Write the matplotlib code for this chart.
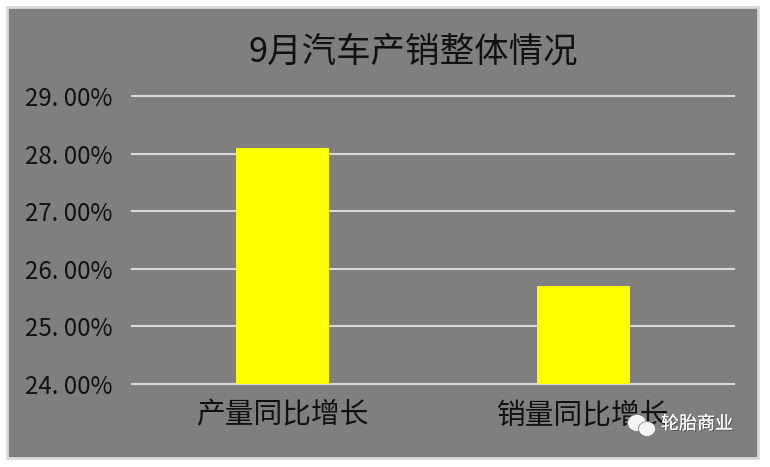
import matplotlib
matplotlib.use("Agg")
import matplotlib.pyplot as plt
from matplotlib.patches import Rectangle, Ellipse
import matplotlib.patheffects as pe

plt.rcParams['font.family'] = ['Noto Sans CJK SC', 'DejaVu Sans']

title = "9月汽车产销整体情况"
categories = ["产量同比增长", "销量同比增长"]
values = [28.10, 25.70]
yticks = [24, 25, 26, 27, 28, 29]
yticklabels = ["24. 00%", "25. 00%", "26. 00%", "27. 00%", "28. 00%", "29. 00%"]
watermark = "轮胎商业"

W, H = 770, 467
fig = plt.figure(figsize=(W/100, H/100), dpi=100, facecolor="white")
fig.patches.append(Rectangle((7/W, 1-458/H), 751/W, 451/H, transform=fig.transFigure,
                             facecolor="#7f7f7f", edgecolor="#d9d9d9", linewidth=2, zorder=-5))
ax = fig.add_axes([132/W, 1-384/H, 602/W, 288/H], zorder=1)
ax.patch.set_alpha(0)
ax.bar(categories, values, width=0.31, color="#ffff00", zorder=3)
ax.set_ylim(24, 29)
ax.set_xlim(-0.5, 1.5)
ax.set_yticks(yticks, yticklabels)
ax.grid(axis="y", color="#d9d9d9", linewidth=1.5, zorder=1)
for gl in ax.get_ygridlines():
    gl.set_clip_on(False)
ax.set_axisbelow(True)
for s in ["top", "right", "left"]:
    ax.spines[s].set_visible(False)
ax.spines["bottom"].set_color("#d9d9d9")
ax.spines["bottom"].set_linewidth(1.5)
ax.tick_params(axis="both", length=0, labelsize=17.3, colors="#111111")
ax.tick_params(axis="y", pad=14)
ax.tick_params(axis="x", pad=12)
for lab in ax.get_xticklabels():
    lab.set_fontsize(20.7)
fig.text(413/W, 1-52/H, title, ha="center", va="center", fontsize=24.8, color="#111111", zorder=3)

# watermark
for (cx, cy, w, h) in [(637, 423, 19, 17), (647, 429, 17, 15)]:
    fig.add_artist(Ellipse((cx/W, 1-cy/H), w/W, h/H, transform=fig.transFigure,
                           facecolor="#f5f5f5", edgecolor="#707070", linewidth=0.5, zorder=5))
fig.text(661/W, 1-424/H, watermark, ha="left", va="center", fontsize=13, color="white", zorder=6,
         path_effects=[pe.withSimplePatchShadow(offset=(0.7, -0.7), shadow_rgbFace="#444444", alpha=0.8), pe.Normal()])
fig.savefig("out.png", dpi=100, facecolor="white")
